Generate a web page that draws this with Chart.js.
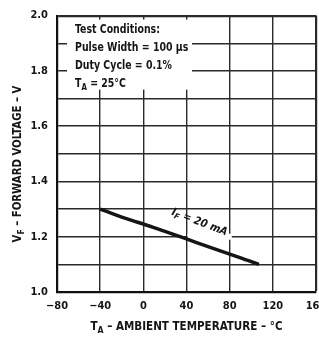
<!DOCTYPE html>
<html>
<head>
<meta charset="utf-8">
<script src="https://cdn.jsdelivr.net/npm/chart.js@4.4.0/dist/chart.umd.min.js"></script>
<style>
  html, body { margin: 0; padding: 0; background: #fff; overflow: hidden; width: 319px; height: 338px; }
  #wrap { position: absolute; left: 0; top: 0; width: 340px; height: 338px; }
</style>
</head>
<body>
<div id="wrap"><canvas id="c"></canvas></div>
<script>
// Data
const temperatures = [-40, -30, -20, -10, 0, 20, 40, 60, 80, 100, 107];
const forwardVoltage = [1.300, 1.285, 1.271, 1.258, 1.246, 1.219, 1.192, 1.164, 1.137, 1.110, 1.100];
const xTickValues = [-80, -40, 0, 40, 80, 120, 160];
const yTickLabels = ['1.0', '1.2', '1.4', '1.6', '1.8', '2.0'];
const curveLabel = ['I', 'F', ' = 20 mA'];
const testConditions = ['Test Conditions:', 'Pulse Width = 100 \u00B5s', 'Duty Cycle = 0.1%'];
const ambientLine = ['T', 'A', ' = 25\u00B0C'];
const xTitle = ['T', 'A', ' \u2013 AMBIENT TEMPERATURE \u2013 \u00B0C'];
const yTitle = ['V', 'F', ' \u2013 FORWARD VOLTAGE \u2013 V'];

const FONT = "'Liberation Sans Narrow', 'Arial Narrow', 'DejaVu Sans Condensed', sans-serif";
const INK = '#151515';

function drawSub(ctx, parts, x, y, size, align, italic, sx) {
  sx = sx || 1;
  const st = italic ? 'italic bold ' : 'bold ';
  const big = st + size + 'px ' + FONT;
  const small = st + Math.round(size * 0.72) + 'px ' + FONT;
  ctx.save();
  ctx.translate(x, y);
  ctx.scale(sx, 1);
  ctx.font = big; const w0 = ctx.measureText(parts[0]).width;
  ctx.font = small; const w1 = ctx.measureText(parts[1]).width;
  ctx.font = big; const w2 = ctx.measureText(parts[2]).width;
  const total = w0 + w1 + w2;
  const x0 = align === 'center' ? -total / 2 : 0;
  ctx.textBaseline = 'middle'; ctx.textAlign = 'left';
  ctx.font = big; ctx.fillText(parts[0], x0, 0);
  ctx.font = small; ctx.fillText(parts[1], x0 + w0, size * 0.3);
  ctx.font = big; ctx.fillText(parts[2], x0 + w0 + w1, 0);
  ctx.restore();
}

const decor = {
  id: 'decor',
  beforeDatasetsDraw(chart) {
    const ctx = chart.ctx, a = chart.chartArea;
    const xs = chart.scales.x, ys = chart.scales.y;
    ctx.save();
    ctx.fillStyle = '#fff';
    // box behind the test conditions text
    ctx.fillRect(a.left + 10, a.top + 4, 125, 70);
    // gap in grid behind the curve label
    const gx0 = xs.getPixelForValue(40) + 1, gx1 = xs.getPixelForValue(82);
    const gy = ys.getPixelForValue(1.2);
    ctx.fillRect(gx0, gy - 3, gx1 - gx0, 6);
    ctx.restore();
  },
  afterDraw(chart) {
    const ctx = chart.ctx, a = chart.chartArea;
    const xs = chart.scales.x, ys = chart.scales.y;
    ctx.save();
    ctx.fillStyle = INK;
    // Test conditions block
    ctx.textAlign = 'left'; ctx.textBaseline = 'middle';
    const lx = a.left + 18;
    const rows = [a.top + 14, a.top + 32, a.top + 50, a.top + 68];
    testConditions.forEach((t, i) => {
      ctx.save();
      ctx.translate(lx, rows[i]);
      ctx.scale(0.87, 1);
      ctx.font = 'bold 12px ' + FONT;
      ctx.fillText(t, 0, 0);
      ctx.restore();
    });
    drawSub(ctx, ambientLine, lx, rows[3], 12, 'left', false, 0.87);
    // curve label, rotated along the curve
    ctx.save();
    ctx.translate(xs.getPixelForValue(52), ys.getPixelForValue(1.252));
    ctx.rotate(21 * Math.PI / 180);
    drawSub(ctx, curveLabel, 0, 0, 11, 'center', true, 1);
    ctx.restore();
    // axis titles
    drawSub(ctx, xTitle, (a.left + a.right) / 2, 327, 12, 'center', false, 0.96);
    ctx.save();
    ctx.translate(18, 164);
    ctx.rotate(-Math.PI / 2);
    drawSub(ctx, yTitle, 0, 0, 12, 'center', false, 0.94);
    ctx.restore();
    ctx.restore();
  }
};

new Chart(document.getElementById('c'), {
  type: 'scatter',
  data: {
    datasets: [{
      data: temperatures.map((t, i) => ({ x: t, y: forwardVoltage[i] })),
      showLine: true,
      borderColor: INK,
      borderWidth: 3.5,
      pointRadius: 0,
      cubicInterpolationMode: 'monotone',
      fill: false
    }]
  },
  options: {
    responsive: true,
    maintainAspectRatio: false,
    animation: false,
    layout: { padding: { left: 0, top: 9, right: 24, bottom: 0 } },
    plugins: { legend: { display: false }, tooltip: { enabled: false } },
    scales: {
      x: {
        type: 'linear', min: -80, max: 160,
        afterFit(s) { s.height = 46; },
        afterBuildTicks(s) { s.ticks = xTickValues.map(v => ({ value: v })); },
        ticks: {
          padding: 8, color: INK, font: { family: FONT, size: 11, weight: 'bold' },
          callback: v => String(v).replace('-', '\u2212')
        },
        grid: {
          drawTicks: false, color: '#2a2a2a',
          lineWidth: c => (c.tick && c.tick.value === 160 ? 2.2 : 1.4)
        },
        border: { display: true, color: '#111', width: 2.2 }
      },
      y: {
        type: 'linear', min: 1.0, max: 2.0,
        afterFit(s) { s.width = 57; },
        ticks: {
          stepSize: 0.1, padding: 9, color: INK, font: { family: FONT, size: 11, weight: 'bold' },
          callback: v => {
            const k = Math.round(v * 10);
            return k % 2 === 0 ? yTickLabels[(k - 10) / 2] : '';
          }
        },
        grid: {
          drawTicks: false, color: '#2a2a2a',
          lineWidth: c => (c.tick && Math.round(c.tick.value * 10) === 20 ? 2.2 : 1.4)
        },
        border: { display: true, color: '#111', width: 2.2 }
      }
    }
  },
  plugins: [decor]
});
</script>
</body>
</html>
